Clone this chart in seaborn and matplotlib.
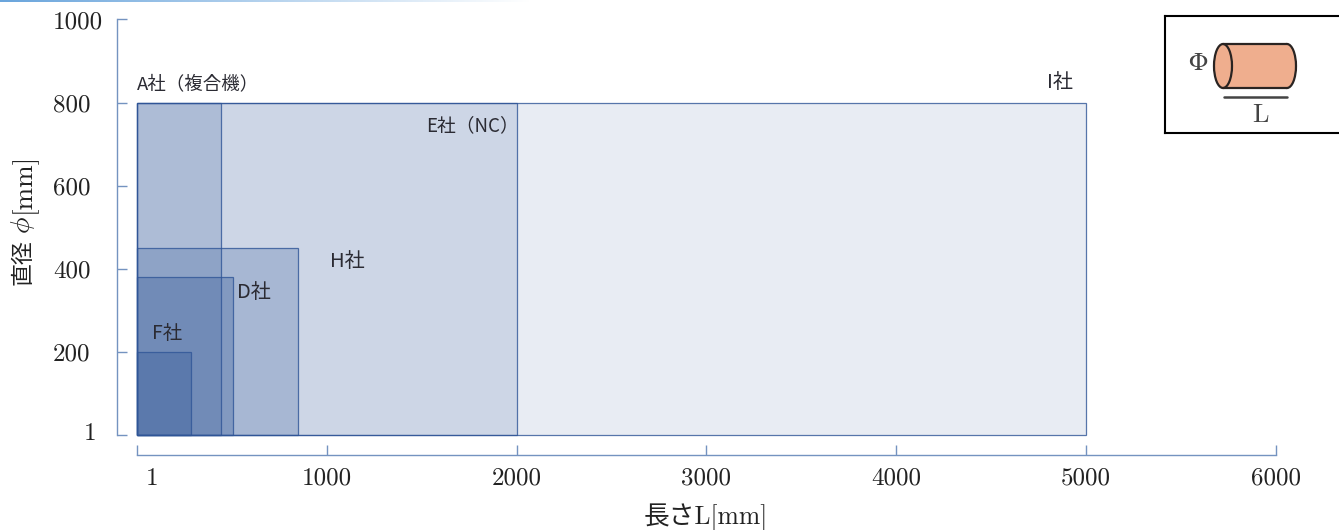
import matplotlib
matplotlib.use("Agg")
import matplotlib.pyplot as plt
import numpy as np
import seaborn as sns
from matplotlib.colors import to_rgba
from matplotlib.patches import Ellipse, Rectangle
from matplotlib.transforms import ScaledTranslation

# widest machine first, smaller ones stack on top
companies = ["I社", "E社（NC）", "A社（複合機）", "H社", "D社", "F社"]
lengths = [5000, 2000, 442, 847, 505, 284]
diameters = [800, 800, 800, 450, 380, 200]
label_x = [4795, 1526, 1, 1020, 530, 80]
label_y = [849, 745, 844, 418, 343, 246]
label_size = [14.5, 13.5, 13.3, 14.5, 14.5, 14]
fill_alpha = [0.11, 0.14, 0.20, 0.24, 0.30, 0.33]

x_ticks = [1, 1000, 2000, 3000, 4000, 5000, 6000]
y_ticks = [1, 200, 400, 600, 800, 1000]

BASE = "#2F5597"
AXIS = "#7493C0"
TEXT = "#222222"
SERIF = ["cmr10", "Noto Sans CJK JP"]
SANS = ["Noto Sans CJK JP", "DejaVu Sans"]
W, H = 1339, 530

sns.set_theme(style="white")
plt.rcParams["font.family"] = SERIF
plt.rcParams["axes.unicode_minus"] = False
plt.rcParams["mathtext.fontset"] = "cm"

fig = plt.figure(figsize=(W / 100, H / 100), dpi=100)
fig.patch.set_facecolor("white")
ax = fig.add_axes([137 / W, (H - 435) / H, (1276 - 137) / W, (435 - 19.5) / H])

for name, length, dia, alpha in zip(companies, lengths, diameters, fill_alpha):
    before = len(ax.patches)
    sns.histplot(x=[length / 2], weights=[dia], bins=[1, length], ax=ax, color=BASE)
    for p in ax.patches[before:]:
        p.set_alpha(None)
        p.set_facecolor(to_rgba(BASE, alpha))
        p.set_edgecolor(to_rgba(BASE, 0.8))
        p.set_linewidth(0.9)
        p.set_clip_on(False)

for name, lx, ly, size in zip(companies, label_x, label_y, label_size):
    ax.text(lx, ly, name, family=SANS, fontsize=size, color="#2b2b33", va="center", ha="left")

ax.set_xlim(1, 6000)
ax.set_ylim(1, 1000)
ax.set_xticks(x_ticks)
ax.set_xticklabels([str(t) for t in x_ticks])
ax.set_yticks(y_ticks)
ax.set_yticklabels([str(t) for t in y_ticks])
ax.set_xlabel("")
ax.set_ylabel("")

sns.despine(ax=ax)
ax.spines["left"].set_position(("outward", 14.4))
ax.spines["bottom"].set_position(("outward", 14.4))
for s in ["left", "bottom"]:
    ax.spines[s].set_color(AXIS)
    ax.spines[s].set_linewidth(1.0)
ax.tick_params(axis="both", direction="in", length=7.5, width=1.0, color=AXIS,
               labelsize=18, labelcolor=TEXT, bottom=True, left=True)
ax.tick_params(axis="y", pad=46)
ax.tick_params(axis="x", pad=9)
# y labels are flush left in the original
for lab in ax.get_yticklabels():
    lab.set_ha("left")
# the "1" labels sit off their ticks
lab = ax.get_xticklabels()[0]
lab.set_transform(lab.get_transform() + ScaledTranslation(15 / 100, 0, fig.dpi_scale_trans))
lab = ax.get_yticklabels()[0]
lab.set_transform(lab.get_transform() + ScaledTranslation(31 / 100, 4 / 100, fig.dpi_scale_trans))

# axis titles, placed by pixel because of the mixed fonts
fig.text(706 / W, 1 - 517 / H, "長さL[mm]", fontsize=18.5, color=TEXT, ha="center", va="center")
fig.text(23 / W, 1 - 262 / H, "直径", family=SANS, fontsize=16.5, color=TEXT, rotation=90, ha="center", va="center")
fig.text(23 / W, 1 - 225 / H, r"$\phi$", fontsize=20, color=TEXT, rotation=90, ha="center", va="center")
fig.text(23 / W, 1 - 183 / H, "[mm]", fontsize=19.5, color=TEXT, rotation=90, ha="center", va="center")

# gradient strip on top of the page
strip = fig.add_axes([0, 1 - 2.5 / H, 530 / W, 2.5 / H])
grad = np.linspace(0, 1, 256).reshape(1, -1, 1)
c0, c1 = np.array(to_rgba("#6AA5DC")[:3]), np.ones(3)
strip.imshow(c0 + (c1 - c0) * grad, aspect="auto")
strip.axis("off")

# cylinder key, in pixel coordinates of the page
key = fig.add_axes([1165 / W, 1 - 133 / H, (1345 - 1165) / W, (133 - 16) / H])
key.set_xlim(1165, 1345)
key.set_ylim(133, 16)
key.set_xticks([])
key.set_yticks([])
for s in key.spines.values():
    s.set_visible(True)
    s.set_color("black")
    s.set_linewidth(1.5)
skin = "#EFAE8E"
dark = "#2a2422"
key.add_patch(Ellipse((1287, 66), 18, 44, fc=skin, ec=dark, lw=1.6))
key.add_patch(Rectangle((1223, 44), 64, 44, fc=skin, ec="none"))
key.plot([1223, 1287], [44, 44], color=dark, lw=1.6)
key.plot([1223, 1287], [88, 88], color=dark, lw=1.6)
key.add_patch(Ellipse((1223, 66), 18, 44, fc=skin, ec=dark, lw=1.6))
key.plot([1224, 1287], [97, 97], color="#444444", lw=1.8)
key.text(1198, 64, "Φ", family="STIXGeneral", fontsize=18, color="#444444", ha="center", va="center")
key.text(1260, 115, "L", fontsize=19, color="#444444", ha="center", va="center")

fig.savefig("out.png", dpi=100)
